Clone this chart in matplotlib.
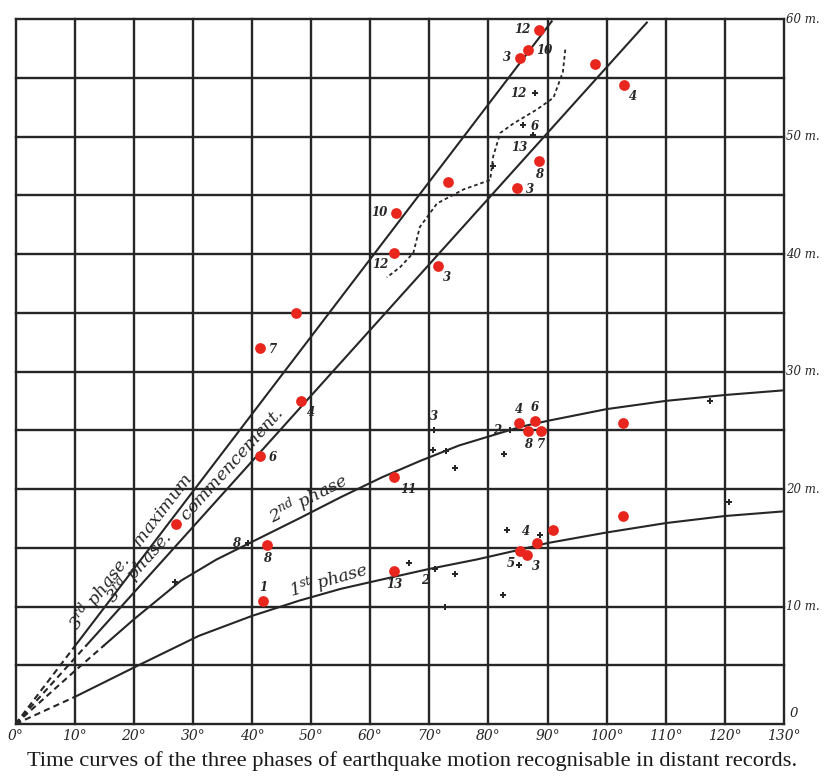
#!/usr/bin/env python3
"""
Oldham-style time curves of the three phases of earthquake motion
"""
import numpy as np
import matplotlib.pyplot as plt

plt.rcParams['mathtext.fontset'] = 'dejavuserif'

# axis ticks (degrees of arc / minutes)
deg_ticks = list(range(0, 131, 10))
min_labels = [60, 50, 40, 30, 20, 10]

# 3rd phase, maximum (straight line)
max_deg = [0, 10, 90.7]
max_min = [0, 6.6, 59.8]

# 3rd phase, commencement (straight line)
com_deg = [0, 12, 106.8]
com_min = [0, 6.7, 59.7]

# 2nd phase curve
sec_deg = [0, 10, 20, 28, 34, 40, 48, 55, 62, 68.5, 75, 85.5, 90, 100, 110, 120, 130]
sec_min = [0, 4.5, 8.9, 12.2, 14.0, 15.5, 17.5, 19.3, 21.0, 22.4, 23.7, 25.3, 25.8, 26.8, 27.5, 28.0, 28.4]

# 1st phase curve
fst_deg = [0, 10, 20, 31, 40, 48, 55, 62, 70, 78, 85, 90, 100, 110, 120, 130]
fst_min = [0, 2.3, 4.8, 7.5, 9.2, 10.5, 11.5, 12.3, 13.2, 14.0, 14.8, 15.4, 16.3, 17.1, 17.7, 18.1]

# dashed curve between the two 3rd phase lines
dsh_deg = [93.0, 92.6, 91.0, 88.2, 84.2, 82.0, 80.8, 80.3, 75.8, 71.3, 68.4, 67.3, 65.1, 62.8]
dsh_min = [57.4, 55.5, 53.3, 52.3, 51.1, 50.3, 48.3, 46.3, 45.5, 44.3, 42.3, 40.1, 38.9, 38.0]

# red observations
red_deg = [88.6, 86.7, 85.3, 98.1, 102.9, 88.6, 84.9, 73.1, 64.3, 64.0, 71.4,
           47.4, 41.4, 48.3, 41.4, 64.1, 27.1, 42.5, 41.9, 64.1,
           85.2, 87.9, 86.7, 88.9, 102.8, 90.9, 102.8, 88.3, 85.4, 86.5]
red_min = [59.1, 57.4, 56.7, 56.2, 54.4, 47.9, 45.6, 46.1, 43.5, 40.1, 39.0,
           35.0, 32.0, 27.5, 22.8, 21.0, 17.0, 15.2, 10.5, 13.0,
           25.6, 25.8, 24.9, 24.9, 25.6, 16.5, 17.7, 15.4, 14.7, 14.4]
red_num = ['12', '10', '3', '', '4', '8', '3', '', '10', '12', '3',
           '', '7', '4', '6', '11', '', '8', '1', '13',
           '4', '6', '8', '7', '', '', '', '4', '5', '3']
red_side = ['l', 'r', 'l', '', 'br', 'b', 'r', '', 'l', 'bl', 'br',
            '', 'r', 'br', 'r', 'br', '', 'b', 'a', 'b',
            'a', 'a', 'b', 'b', '', '', '', 'al', 'bl', 'br']

# black observations
blk_deg = [87.9, 85.8, 87.5, 80.7,
           70.8, 70.7, 72.9, 74.4, 82.7, 83.6, 117.5, 120.7, 39.4, 27.0,
           66.6, 71.0, 74.4, 72.7, 82.5, 83.1, 88.7, 85.1]
blk_min = [53.7, 51.0, 50.1, 47.5,
           25.0, 23.3, 23.2, 21.8, 23.0, 25.0, 27.5, 18.9, 15.4, 12.1,
           13.7, 13.2, 12.8, 10.0, 11.0, 16.5, 16.1, 13.5]
blk_num = ['12', '6', '13', '',
           '3', '', '', '', '', '2', '', '', '8', '',
           '', '2', '', '', '', '', '', '']
blk_side = ['l', 'r', 'bl', '',
            'a', '', '', '', '', 'l', '', '', 'l', '',
            '', 'bl', '', '', '', '', '', '']

caption = 'Time curves of the three phases of earthquake motion recognisable in distant records.'

INK = '#262626'
RED = '#e8261e'

OFFS = {
    'l': (-6, 0, 'right', 'center'),
    'r': (6, -1, 'left', 'center'),
    'a': (0, 5, 'center', 'bottom'),
    'b': (0, -5, 'center', 'top'),
    'al': (-5, 4, 'right', 'bottom'),
    'bl': (-4, -4, 'right', 'top'),
    'br': (4, -4, 'left', 'top'),
}


def split_line(ax, xs, ys, cut, lw=1.5):
    """Draw a line dashed up to `cut` degrees and solid after it"""
    xs = np.asarray(xs, float)
    ys = np.asarray(ys, float)
    yc = np.interp(cut, xs, ys)
    head = xs < cut
    ax.plot(np.r_[xs[head], cut], np.r_[ys[head], yc], color=INK, lw=lw,
            dashes=(3, 2), solid_capstyle='butt')
    tail = xs > cut
    ax.plot(np.r_[cut, xs[tail]], np.r_[yc, ys[tail]], color=INK, lw=lw)


def line_label(ax, xs, ys, at, text, size):
    """Write text sitting on a line at `at` degrees, rotated to follow it"""
    y0 = np.interp(at, xs, ys)
    y1 = np.interp(at + 1, xs, ys)
    p0 = ax.transData.transform((at, y0))
    p1 = ax.transData.transform((at + 1, y1))
    ang = np.degrees(np.arctan2(p1[1] - p0[1], p1[0] - p0[0]))
    ax.text(at, y0, text, rotation=ang, rotation_mode='anchor',
            ha='center', va='bottom', fontsize=size, family='DejaVu Serif',
            style='italic', color=INK)


def number_labels(ax, xs, ys, nums, sides):
    for x, y, n, s in zip(xs, ys, nums, sides):
        if not n:
            continue
        dx, dy, ha, va = OFFS[s]
        ax.annotate(n, (x, y), xytext=(dx, dy), textcoords='offset points',
                    ha=ha, va=va, fontsize=8.5, style='italic',
                    fontweight='bold', color=INK, family='DejaVu Serif')


fig = plt.figure(figsize=(8.25, 7.76), dpi=100)
ax = fig.add_axes([0.0188, 0.067, 0.9315, 0.9085])
ax.set_xlim(0, 130)
ax.set_ylim(0, 60)
ax.axis('off')

# the ruled grid
for d in deg_ticks:
    ax.axvline(d, color=INK, lw=1.7, clip_on=False)
for m in range(0, 61, 5):
    ax.axhline(m, color=INK, lw=1.7, clip_on=False)

# the curves
split_line(ax, max_deg, max_min, 10)
split_line(ax, com_deg, com_min, 12)
split_line(ax, sec_deg, sec_min, 15)
split_line(ax, fst_deg, fst_min, 10)
ax.plot(dsh_deg, dsh_min, color=INK, lw=1.3, dashes=(2, 1.6))

line_label(ax, max_deg, max_min, 21.5, '3$^{rd}$ phase.   maximum.', 12.5)
line_label(ax, com_deg, com_min, 32, '3$^{rd}$ phase.    commencement.', 12.5)
line_label(ax, sec_deg, sec_min, 50.5, '2$^{nd}$ phase', 12.5)
line_label(ax, fst_deg, fst_min, 53.5, '1$^{st}$ phase', 12.5)

# observations
ax.scatter(blk_deg, blk_min, s=24, marker='P', color=INK, zorder=4, linewidths=0)
ax.scatter(red_deg, red_min, s=60, color=RED, zorder=5, linewidths=0)
number_labels(ax, red_deg, red_min, red_num, red_side)
number_labels(ax, blk_deg, blk_min, blk_num, blk_side)

# scale labels
for d in deg_ticks:
    ax.text(d, -0.45, f'{d}°', ha='center', va='top', fontsize=10,
            style='italic', family='DejaVu Serif', color=INK)
for m in min_labels:
    ax.text(130.4, m, f'{m} m.', ha='left', va='center', fontsize=8.5,
            style='italic', family='DejaVu Serif', color=INK)
ax.text(131.0, 0.9, '0', ha='left', va='center', fontsize=9.5,
        style='italic', family='DejaVu Serif', color=INK)

fig.text(0.5, 0.019, caption, ha='center', va='center', fontsize=16.2,
         family='Liberation Serif', color='#1a1a1a')

fig.savefig('out.png', dpi=100, facecolor='white')
